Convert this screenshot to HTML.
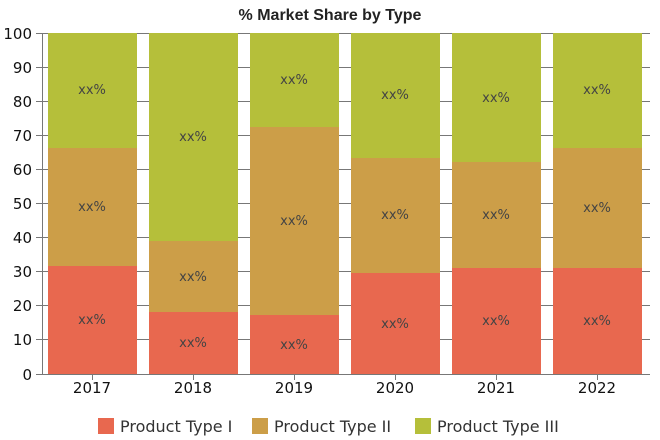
<!DOCTYPE html>
<html><head><style>body{margin:0;background:#fff}svg{display:block;font-family:"DejaVu Sans","Liberation Sans",sans-serif}</style></head><body>
<svg width="660" height="440" xmlns="http://www.w3.org/2000/svg">
<text x="330" y="20" text-anchor="middle" font-size="16" font-weight="bold" fill="#222" font-family="Liberation Sans, sans-serif">% Market Share by Type</text>
<g stroke="#777" stroke-width="1">
<line x1="36" y1="33.5" x2="650" y2="33.5"/><line x1="36" y1="67.5" x2="650" y2="67.5"/><line x1="36" y1="101.5" x2="650" y2="101.5"/><line x1="36" y1="135.5" x2="650" y2="135.5"/><line x1="36" y1="169.5" x2="650" y2="169.5"/><line x1="36" y1="203.5" x2="650" y2="203.5"/><line x1="36" y1="237.5" x2="650" y2="237.5"/><line x1="36" y1="271.5" x2="650" y2="271.5"/><line x1="36" y1="305.5" x2="650" y2="305.5"/><line x1="36" y1="339.5" x2="650" y2="339.5"/><line x1="36" y1="374.5" x2="650" y2="374.5"/>
<line x1="42.5" y1="33" x2="42.5" y2="375"/>
</g>
<g font-size="15" fill="#111" text-anchor="end">
<text x="32" y="39">100</text><text x="32" y="73">90</text><text x="32" y="107">80</text><text x="32" y="141">70</text><text x="32" y="175">60</text><text x="32" y="209">50</text><text x="32" y="243">40</text><text x="32" y="277">30</text><text x="32" y="311">20</text><text x="32" y="345">10</text><text x="32" y="380">0</text>
</g>
<g>
<rect x="48" y="33" width="89" height="115" fill="#B5BF3A"/><rect x="48" y="148" width="89" height="118" fill="#CC9E48"/><rect x="48" y="266" width="89" height="108" fill="#E8684F"/>
<rect x="149" y="33" width="89" height="208" fill="#B5BF3A"/><rect x="149" y="241" width="89" height="71" fill="#CC9E48"/><rect x="149" y="312" width="89" height="62" fill="#E8684F"/>
<rect x="250" y="33" width="89" height="94" fill="#B5BF3A"/><rect x="250" y="127" width="89" height="188" fill="#CC9E48"/><rect x="250" y="315" width="89" height="59" fill="#E8684F"/>
<rect x="351" y="33" width="89" height="125" fill="#B5BF3A"/><rect x="351" y="158" width="89" height="115" fill="#CC9E48"/><rect x="351" y="273" width="89" height="101" fill="#E8684F"/>
<rect x="452" y="33" width="89" height="129" fill="#B5BF3A"/><rect x="452" y="162" width="89" height="106" fill="#CC9E48"/><rect x="452" y="268" width="89" height="106" fill="#E8684F"/>
<rect x="553" y="33" width="89" height="115" fill="#B5BF3A"/><rect x="553" y="148" width="89" height="120" fill="#CC9E48"/><rect x="553" y="268" width="89" height="106" fill="#E8684F"/>
</g>
<g font-size="13" fill="#444" text-anchor="middle">
<text x="92" y="94">xx%</text><text x="92" y="211">xx%</text><text x="92" y="324">xx%</text>
<text x="193" y="141">xx%</text><text x="193" y="281">xx%</text><text x="193" y="347">xx%</text>
<text x="294" y="84">xx%</text><text x="294" y="225">xx%</text><text x="294" y="349">xx%</text>
<text x="395" y="99">xx%</text><text x="395" y="219">xx%</text><text x="395" y="328">xx%</text>
<text x="496" y="102">xx%</text><text x="496" y="219">xx%</text><text x="496" y="325">xx%</text>
<text x="597" y="94">xx%</text><text x="597" y="212">xx%</text><text x="597" y="325">xx%</text>
</g>
<g stroke="#777"><line x1="92.5" y1="374" x2="92.5" y2="380"/><line x1="193.5" y1="374" x2="193.5" y2="380"/><line x1="294.5" y1="374" x2="294.5" y2="380"/><line x1="395.5" y1="374" x2="395.5" y2="380"/><line x1="496.5" y1="374" x2="496.5" y2="380"/><line x1="597.5" y1="374" x2="597.5" y2="380"/></g>
<g font-size="15" fill="#111" text-anchor="middle">
<text x="92" y="393">2017</text><text x="193" y="393">2018</text><text x="294" y="393">2019</text><text x="395" y="393">2020</text><text x="496" y="393">2021</text><text x="597" y="393">2022</text>
</g>
<g font-size="16" fill="#333">
<rect x="98" y="418" width="16" height="16" fill="#E8684F"/><text x="120" y="432">Product Type I</text>
<rect x="252" y="418" width="16" height="16" fill="#CC9E48"/><text x="274" y="432">Product Type II</text>
<rect x="415" y="418" width="16" height="16" fill="#B5BF3A"/><text x="437" y="432">Product Type III</text>
</g>
</svg>
</body></html>
